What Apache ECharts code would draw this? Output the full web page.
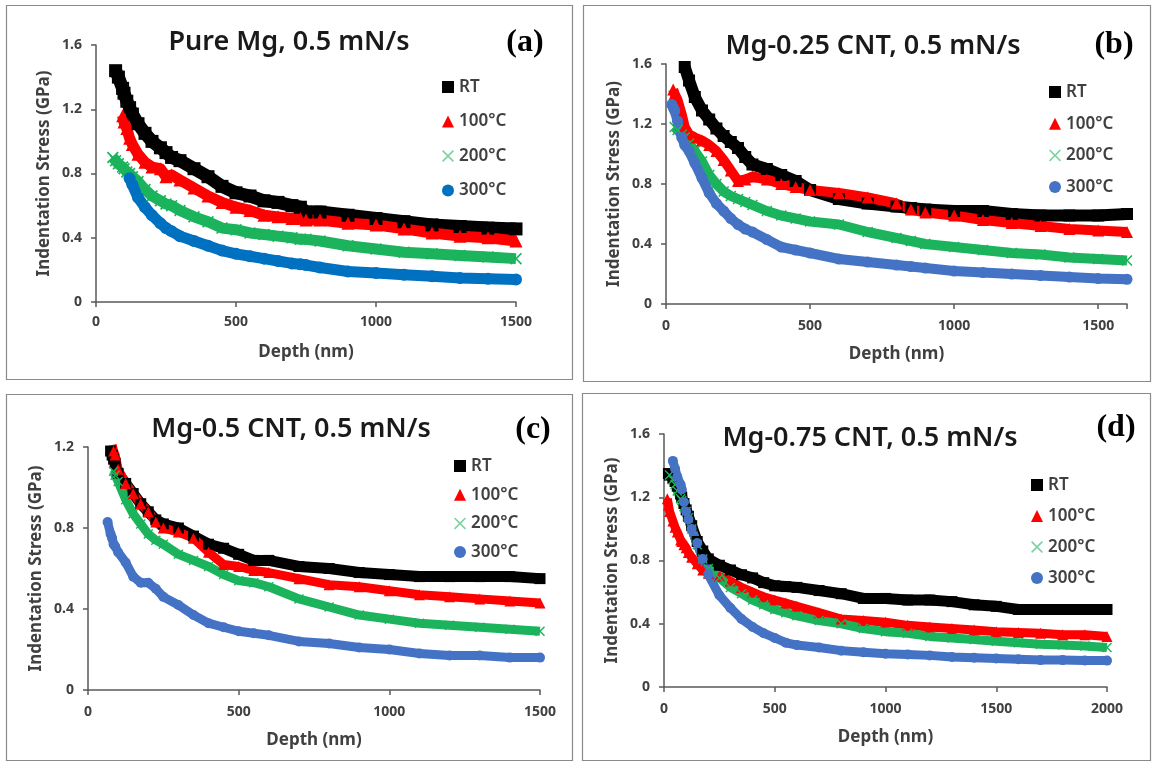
<!DOCTYPE html>
<html>
<head>
<meta charset="utf-8">
<script src="https://cdn.jsdelivr.net/npm/echarts@6/dist/echarts.min.js"></script>
<style>
  html, body { margin: 0; padding: 0; background: #fff; }
  #main { width: 1156px; height: 763px; }
</style>
</head>
<body>
<div id="main"></div>
<script>
// legend names
const names = ['RT', '100°C', '200°C', '300°C'];

// (a) Pure Mg
const depthA = [60, 70, 80, 95, 100, 110, 120, 130, 150, 175, 200, 230, 250, 270, 300, 350, 400, 450, 500, 550, 600, 650, 700, 730, 750, 800, 900, 1000, 1100, 1200, 1300, 1400, 1500];
const rtA = [null, 1.44, 1.40, 1.33, 1.30, 1.25, 1.21, 1.17, 1.11, 1.05, 1.00, 0.96, 0.93, 0.90, 0.88, 0.83, 0.78, 0.72, 0.68, 0.66, 0.63, 0.62, 0.60, 0.59, 0.56, 0.56, 0.54, 0.52, 0.50, 0.48, 0.47, 0.46, 0.455];
const t100A = [null, null, null, 1.16, 1.12, 1.08, 1.02, 0.98, 0.92, 0.87, 0.84, 0.83, 0.78, 0.79, 0.76, 0.71, 0.66, 0.62, 0.59, 0.57, 0.54, 0.53, 0.52, 0.52, 0.51, 0.51, 0.49, 0.48, 0.455, 0.43, 0.41, 0.40, 0.38];
const t200A = [0.90, 0.88, 0.86, 0.84, 0.83, 0.81, 0.80, 0.78, 0.75, 0.70, 0.66, 0.63, 0.61, 0.60, 0.57, 0.53, 0.50, 0.46, 0.45, 0.43, 0.42, 0.41, 0.40, 0.39, 0.39, 0.38, 0.35, 0.33, 0.31, 0.30, 0.29, 0.28, 0.27];
const t300A = [null, null, null, null, null, null, 0.77, 0.73, 0.65, 0.59, 0.54, 0.49, 0.46, 0.44, 0.41, 0.38, 0.35, 0.32, 0.30, 0.285, 0.27, 0.255, 0.24, 0.235, 0.23, 0.215, 0.19, 0.18, 0.17, 0.16, 0.15, 0.145, 0.14];

// (b) Mg-0.25 CNT
const depthB = [20, 25, 30, 40, 55, 65, 80, 100, 125, 150, 175, 200, 225, 250, 275, 300, 350, 400, 450, 500, 600, 700, 800, 850, 900, 1000, 1100, 1200, 1300, 1400, 1500, 1600];
const rtB = [null, null, null, null, null, 1.58, 1.49, 1.38, 1.29, 1.23, 1.17, 1.12, 1.08, 1.04, 0.98, 0.93, 0.90, 0.86, 0.82, 0.76, 0.70, 0.67, 0.65, 0.64, 0.63, 0.62, 0.62, 0.60, 0.59, 0.59, 0.59, 0.60];
const t100B = [null, 1.43, 1.40, 1.36, 1.26, 1.18, 1.13, 1.11, 1.09, 1.06, 1.02, 0.96, 0.89, 0.82, 0.83, 0.85, 0.83, 0.80, 0.78, 0.76, 0.74, 0.71, 0.67, 0.63, 0.61, 0.59, 0.56, 0.54, 0.52, 0.50, 0.49, 0.48];
const t200B = [null, null, 1.18, 1.16, 1.13, 1.11, 1.07, 1.02, 0.95, 0.86, 0.80, 0.75, 0.72, 0.70, 0.68, 0.66, 0.62, 0.59, 0.57, 0.55, 0.53, 0.48, 0.44, 0.42, 0.40, 0.38, 0.36, 0.34, 0.33, 0.31, 0.30, 0.29];
const t300B = [1.33, 1.31, 1.29, 1.22, 1.11, 1.06, 1.02, 0.94, 0.84, 0.74, 0.67, 0.62, 0.57, 0.53, 0.50, 0.48, 0.43, 0.38, 0.36, 0.34, 0.30, 0.28, 0.26, 0.25, 0.24, 0.22, 0.21, 0.20, 0.19, 0.18, 0.17, 0.165];

// (c) Mg-0.5 CNT
const depthC = [65, 75, 80, 85, 90, 100, 125, 150, 175, 200, 225, 250, 300, 350, 400, 450, 500, 550, 600, 700, 800, 900, 1000, 1100, 1200, 1300, 1400, 1500];
const rtC = [null, 1.18, 1.16, 1.14, 1.12, 1.07, 1.02, 0.97, 0.92, 0.88, 0.84, 0.82, 0.80, 0.76, 0.72, 0.70, 0.67, 0.64, 0.64, 0.61, 0.60, 0.58, 0.57, 0.56, 0.56, 0.56, 0.56, 0.55];
const t100C = [null, null, 1.21, 1.18, 1.16, 1.09, 1.02, 0.97, 0.92, 0.88, 0.83, 0.80, 0.78, 0.75, 0.68, 0.62, 0.61, 0.59, 0.58, 0.55, 0.52, 0.51, 0.49, 0.47, 0.46, 0.45, 0.44, 0.43];
const t200C = [null, null, null, 1.08, 1.06, 1.03, 0.94, 0.87, 0.82, 0.77, 0.74, 0.72, 0.67, 0.64, 0.61, 0.57, 0.54, 0.53, 0.51, 0.45, 0.41, 0.37, 0.35, 0.33, 0.32, 0.31, 0.30, 0.29];
const t300C = [0.83, 0.77, 0.75, 0.72, 0.71, 0.68, 0.63, 0.56, 0.53, 0.53, 0.50, 0.46, 0.42, 0.37, 0.33, 0.31, 0.29, 0.28, 0.27, 0.24, 0.23, 0.21, 0.20, 0.18, 0.17, 0.17, 0.16, 0.16];

// (d) Mg-0.75 CNT
const depthD = [15, 20, 25, 40, 50, 60, 75, 80, 90, 100, 110, 125, 150, 175, 200, 250, 300, 350, 400, 450, 500, 550, 600, 700, 800, 900, 1000, 1100, 1200, 1300, 1400, 1500, 1600, 1700, 1800, 1900, 2000];
const rtD = [null, 1.35, 1.34, 1.32, 1.30, 1.27, 1.22, 1.20, 1.16, 1.12, 1.08, 1.02, 0.92, 0.86, 0.81, 0.77, 0.74, 0.71, 0.69, 0.66, 0.64, 0.635, 0.63, 0.61, 0.59, 0.56, 0.56, 0.55, 0.55, 0.54, 0.52, 0.51, 0.49, 0.49, 0.49, 0.49, 0.49];
const t100D = [1.19, 1.15, 1.11, 1.05, 1.01, 0.98, 0.93, 0.92, 0.90, 0.88, 0.85, 0.82, 0.78, 0.74, 0.72, 0.70, 0.67, 0.63, 0.60, 0.57, 0.55, 0.53, 0.51, 0.47, 0.43, 0.42, 0.41, 0.39, 0.38, 0.37, 0.36, 0.35, 0.345, 0.34, 0.33, 0.33, 0.32];
const t200D = [null, null, 1.34, 1.31, 1.28, 1.24, 1.19, 1.18, 1.14, 1.11, 1.07, 1.00, 0.90, 0.81, 0.75, 0.69, 0.63, 0.59, 0.55, 0.52, 0.49, 0.47, 0.45, 0.42, 0.40, 0.37, 0.35, 0.34, 0.32, 0.31, 0.30, 0.29, 0.28, 0.27, 0.265, 0.26, 0.25];
const t300D = [null, null, null, 1.43, 1.38, 1.33, 1.28, 1.25, 1.17, 1.11, 1.06, 1.00, 0.91, 0.81, 0.71, 0.58, 0.50, 0.43, 0.38, 0.34, 0.31, 0.28, 0.265, 0.25, 0.23, 0.22, 0.21, 0.205, 0.20, 0.19, 0.185, 0.18, 0.175, 0.17, 0.17, 0.168, 0.167];

const crossPath = 'path://M0,1L1,0L5,4L9,0L10,1L6,5L10,9L9,10L5,6L1,10L0,9L4,5Z';
const labelFont = 'Noto Sans';
const axisColor = '#595959';
const textColor = '#404040';

const panels = [
  { title: 'Pure Mg, 0.5 mN/s', tag: '(a)', titleX: 289, titleY: 42, tagX: 525, tagY: 43,
    grid: { left: 96, top: 45, width: 420, height: 257 }, xMax: 1500, yMax: 1.6, labelMargin: 13,
    depth: depthA, vals: [rtA, t100A, t200A, t300A], blue: '#0070c0', lw: 12,
    legend: { left: 437, top: 73, gap: 16.5 } },
  { title: 'Mg-0.25 CNT, 0.5 mN/s', tag: '(b)', titleX: 873, titleY: 46, tagX: 1114, tagY: 45,
    grid: { left: 666, top: 64, width: 461, height: 240 }, xMax: 1600, yMax: 1.6, labelMargin: 15,
    depth: depthB, vals: [rtB, t100B, t200B, t300B], blue: '#4472c4', lw: 11,
    legend: { left: 1044, top: 78, gap: 13.7 } },
  { title: 'Mg-0.5 CNT, 0.5 mN/s', tag: '(c)', titleX: 291, titleY: 429, tagX: 533, tagY: 430,
    grid: { left: 88, top: 447, width: 452, height: 243 }, xMax: 1500, yMax: 1.2, labelMargin: 15,
    depth: depthC, vals: [rtC, t100C, t200C, t300C], blue: '#4472c4', lw: 10,
    legend: { left: 449, top: 452, gap: 10.7 } },
  { title: 'Mg-0.75 CNT, 0.5 mN/s', tag: '(d)', titleX: 870, titleY: 438, tagX: 1116, tagY: 428,
    grid: { left: 664, top: 434, width: 443, height: 253 }, xMax: 2000, yMax: 1.6, labelMargin: 15,
    depth: depthD, vals: [rtD, t100D, t200D, t300D], blue: '#4472c4', lw: 10,
    legend: { left: 1026, top: 471, gap: 13 } }
];

const boxes = [
  [6, 5, 566, 374],
  [583, 5, 567, 376],
  [6, 394, 566, 366],
  [582, 393, 568, 367]
];

function pairs(depth, vals) {
  return depth.map((d, i) => [d, vals[i]]).filter(p => p[1] !== null);
}

const grids = [], xAxes = [], yAxes = [], series = [], legends = [], graphics = [];

boxes.forEach(b => {
  graphics.push({
    type: 'rect', silent: true,
    shape: { x: b[0] + 0.5, y: b[1] + 0.5, width: b[2], height: b[3] },
    style: { fill: 'none', stroke: '#8a8a8a', lineWidth: 1.2 }
  });
});

panels.forEach((p, i) => {
  grids.push(Object.assign({ containLabel: false }, p.grid));
  xAxes.push({
    gridIndex: i, type: 'value', min: 0, max: p.xMax, interval: 500,
    name: 'Depth (nm)', nameLocation: 'middle', nameGap: 42,
    nameTextStyle: { fontFamily: labelFont, fontSize: 17, fontWeight: 'bold', color: textColor },
    splitLine: { show: false },
    axisLine: { lineStyle: { color: axisColor, width: 1.5 } },
    axisTick: { length: 5, lineStyle: { color: axisColor, width: 1.5 } },
    axisLabel: {
      fontFamily: labelFont, fontSize: 14, fontWeight: 'bold', color: textColor, margin: p.labelMargin,
      formatter: v => (v % 500 === 0 ? String(v) : '')
    }
  });
  yAxes.push({
    gridIndex: i, type: 'value', min: 0, max: p.yMax, interval: 0.4,
    name: 'Indentation Stress (GPa)', nameLocation: 'middle', nameGap: 43,
    nameTextStyle: { fontFamily: labelFont, fontSize: 17, fontWeight: 'bold', color: textColor },
    splitLine: { show: false },
    axisLine: { lineStyle: { color: axisColor, width: 1.5 } },
    axisTick: { length: 5, lineStyle: { color: axisColor, width: 1.5 } },
    axisLabel: { fontFamily: labelFont, fontSize: 14, fontWeight: 'bold', color: textColor, margin: 14 }
  });

  const colors = ['#000000', '#ff0000', '#1bb35c', p.blue];
  const symbols = ['rect', 'triangle', crossPath, 'circle'];
  const sizes = [p.lw + 1, p.lw + 1, p.lw, p.lw];
  p.vals.forEach((v, k) => {
    series.push({
      name: names[k], type: 'line', xAxisIndex: i, yAxisIndex: i,
      data: pairs(p.depth, v),
      symbol: symbols[k], symbolSize: sizes[k], showAllSymbol: true,
      lineStyle: { color: colors[k], width: k === 0 ? p.lw + 1 : p.lw - 1, join: 'round' },
      itemStyle: { color: colors[k] },
      clip: true, silent: true
    });
  });

  legends.push({
    left: p.legend.left, top: p.legend.top, orient: 'vertical',
    itemWidth: 12, itemHeight: 12, itemGap: p.legend.gap,
    selectedMode: false,
    textStyle: { fontFamily: labelFont, fontSize: 17, fontWeight: 600, color: textColor, lineHeight: 18 },
    data: [
      { name: 'RT', icon: 'rect', itemStyle: { color: '#000000' } },
      { name: '100°C', icon: 'triangle', itemStyle: { color: '#ff0000' } },
      { name: '200°C', icon: crossPath, itemStyle: { color: '#7fd3a2' } },
      { name: '300°C', icon: 'circle', itemStyle: { color: p.blue } }
    ]
  });

  graphics.push({
    type: 'text', x: p.titleX, y: p.titleY, silent: true,
    style: { text: p.title, fontFamily: labelFont, fontSize: 27, fontWeight: 600, fill: '#1a1a1a', align: 'center', verticalAlign: 'middle' }
  });
  graphics.push({
    type: 'text', x: p.tagX, y: p.tagY, silent: true,
    style: { text: p.tag, fontFamily: 'Liberation Serif', fontSize: 32, fontWeight: 'bold', fill: '#000', align: 'center', verticalAlign: 'middle' }
  });
});

const chart = echarts.init(document.getElementById('main'));
chart.setOption({
  animation: false,
  backgroundColor: '#ffffff',
  grid: grids,
  xAxis: xAxes,
  yAxis: yAxes,
  legend: legends,
  series: series,
  graphic: graphics
});
</script>
</body>
</html>
